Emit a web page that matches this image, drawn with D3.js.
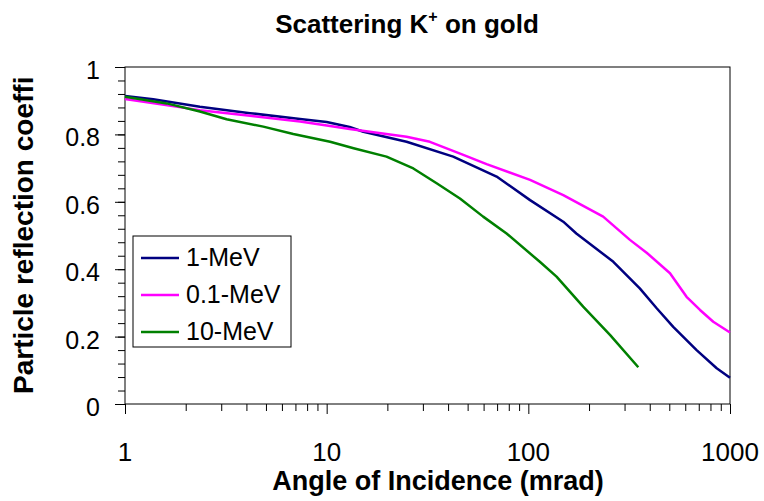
<!DOCTYPE html>
<html>
<head>
<meta charset="utf-8">
<script src="https://cdn.jsdelivr.net/npm/d3@7"></script>
<style>
  body { margin: 0; background: #fff; }
  svg { display: block; font-family: "Liberation Sans", Arial, sans-serif; }
</style>
</head>
<body>
<div id="chart"></div>
<script>
// values
const mev1X = [1, 1.38, 2.35, 4.17, 7.38, 10, 13, 15.2, 24.9, 42.4, 69.6, 102, 149, 173, 264, 357, 433, 523, 683, 859, 1000];
const mev1Y = [0.914, 0.904, 0.882, 0.863, 0.846, 0.837, 0.822, 0.808, 0.778, 0.734, 0.675, 0.605, 0.541, 0.506, 0.422, 0.343, 0.284, 0.229, 0.160, 0.106, 0.078];

const mev01X = [1, 2.35, 4.17, 7.38, 10.4, 13, 24.9, 32.5, 47.6, 62.1, 102, 149, 235, 319, 386, 504, 609, 710, 826, 1000];
const mev01Y = [0.905, 0.872, 0.855, 0.838, 0.825, 0.816, 0.793, 0.778, 0.739, 0.712, 0.665, 0.620, 0.556, 0.487, 0.449, 0.388, 0.318, 0.279, 0.244, 0.212];

const mev10X = [1, 1.61, 2.35, 3.19, 4.85, 6.83, 10.4, 13.6, 19.8, 26.9, 35.1, 45.8, 59.7, 78, 114, 138, 187, 254, 351];
const mev10Y = [0.912, 0.892, 0.868, 0.845, 0.823, 0.801, 0.778, 0.759, 0.734, 0.699, 0.655, 0.610, 0.556, 0.506, 0.422, 0.378, 0.289, 0.205, 0.109];

const seriesNames = ['1-MeV', '0.1-MeV', '10-MeV'];
const seriesColors = ['#000080', '#ff00ff', '#008000'];
const xTickValues = [1, 10, 100, 1000];
const yTickValues = [0, 0.2, 0.4, 0.6, 0.8, 1];

const width = 764;
const height = 501;
const plot = { left: 125, right: 730, top: 67, bottom: 404 };

const series = [
  { name: seriesNames[0], color: seriesColors[0], pts: mev1X.map((x, i) => [x, mev1Y[i]]) },
  { name: seriesNames[1], color: seriesColors[1], pts: mev01X.map((x, i) => [x, mev01Y[i]]) },
  { name: seriesNames[2], color: seriesColors[2], pts: mev10X.map((x, i) => [x, mev10Y[i]]) },
];

const svg = d3.select('#chart').append('svg')
  .attr('width', width)
  .attr('height', height);

const x = d3.scaleLog().domain([1, 1000]).range([plot.left, plot.right]);
const y = d3.scaleLinear().domain([0, 1]).range([plot.bottom, plot.top]);

// plot frame
svg.append('rect')
  .attr('x', plot.left).attr('y', plot.top)
  .attr('width', plot.right - plot.left)
  .attr('height', plot.bottom - plot.top)
  .attr('fill', 'none').attr('stroke', '#000').attr('stroke-width', 1);

// y axis: minor ticks every 0.04, major every 0.2
const yMinor = d3.range(0, 1.0001, 0.04);
const yAxis = svg.append('g').attr('transform', `translate(${plot.left},0)`);
yAxis.call(d3.axisLeft(y).tickValues(yMinor).tickSize(7).tickFormat(''));
yAxis.append('g').call(d3.axisLeft(y).tickValues(yTickValues).tickSize(10).tickFormat(''));
yAxis.selectAll('.domain').remove();
yAxis.selectAll('line').attr('stroke', '#000');

svg.append('g').selectAll('text')
  .data(yTickValues)
  .join('text')
  .attr('x', plot.left - 25)
  .attr('y', (d) => y(d) + 12)
  .attr('text-anchor', 'end')
  .attr('font-size', 25)
  .text((d) => d3.format('~g')(d));

// x axis: log, minor ticks at 2..9 of each decade
const xMinor = [];
for (let dec = 1; dec < 1000; dec *= 10) {
  for (let k = 2; k <= 9; k++) xMinor.push(dec * k);
}
const xAxis = svg.append('g').attr('transform', `translate(0,${plot.bottom})`);
xAxis.call(d3.axisBottom(x).tickValues(xMinor).tickSize(7).tickFormat(''));
xAxis.append('g').call(d3.axisBottom(x).tickValues(xTickValues).tickSize(10).tickFormat(''));
xAxis.selectAll('.domain').remove();
xAxis.selectAll('line').attr('stroke', '#000');

svg.append('g').selectAll('text')
  .data(xTickValues)
  .join('text')
  .attr('x', (d) => x(d))
  .attr('y', 461)
  .attr('text-anchor', 'middle')
  .attr('font-size', 26)
  .text((d) => d);

// lines
const line = d3.line()
  .x((d) => x(d[0]))
  .y((d) => y(d[1]));

svg.append('g').selectAll('path')
  .data(series)
  .join('path')
  .attr('d', (d) => line(d.pts))
  .attr('fill', 'none')
  .attr('stroke', (d) => d.color)
  .attr('stroke-width', 2.5)
  .attr('stroke-linejoin', 'round');

// title
const title = svg.append('text')
  .attr('x', 407)
  .attr('y', 33)
  .attr('text-anchor', 'middle')
  .attr('font-size', 26)
  .attr('font-weight', 'bold');
title.append('tspan').text('Scattering K');
title.append('tspan').attr('font-size', 16).attr('dy', -11).text('+');
title.append('tspan').attr('dy', 11).text(' on gold');

// axis titles
svg.append('text')
  .attr('x', 438)
  .attr('y', 490)
  .attr('text-anchor', 'middle')
  .attr('font-size', 27)
  .attr('font-weight', 'bold')
  .text('Angle of Incidence (mrad)');

svg.append('text')
  .attr('transform', 'translate(33,394) rotate(-90)')
  .attr('font-size', 28)
  .attr('font-weight', 'bold')
  .text('Particle reflection coeffi');

// legend
const legend = svg.append('g');
legend.append('rect')
  .attr('x', 133).attr('y', 236)
  .attr('width', 158).attr('height', 111)
  .attr('fill', '#fff').attr('stroke', '#000').attr('stroke-width', 1);

const rows = legend.selectAll('g.row')
  .data(series)
  .join('g')
  .attr('class', 'row')
  .attr('transform', (d, i) => `translate(0,${258 + i * 37})`);
rows.append('line')
  .attr('x1', 141).attr('x2', 179)
  .attr('stroke', (d) => d.color)
  .attr('stroke-width', 2.5);
rows.append('text')
  .attr('x', 186)
  .attr('y', 8)
  .attr('font-size', 25)
  .text((d) => d.name);
</script>
</body>
</html>
